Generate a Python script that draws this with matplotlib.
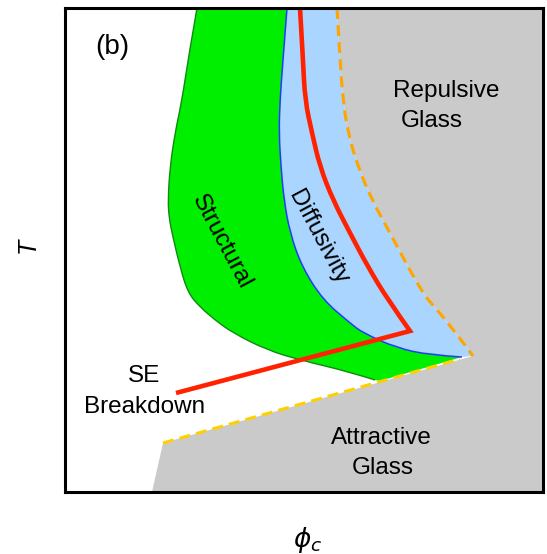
import numpy as np
import matplotlib.pyplot as plt
from matplotlib.path import Path
from matplotlib.patches import PathPatch

plt.rcParams['font.family'] = ['Liberation Sans', 'DejaVu Sans']

# Boundary curves of the schematic state diagram (phi_c across, T up)
structural_phi = [132, 123, 117, 110, 105, 103, 104, 107, 115, 123, 135, 150, 168, 202, 235, 285, 310, 315]
structural_T = [484, 432, 392, 359, 325, 292, 275, 259, 225, 199, 185, 172, 159, 142, 132, 120, 112, 111]
diffusivity_phi = [222, 218, 215, 214, 216, 219, 225, 237, 258, 285, 298, 332, 365, 397]
diffusivity_T = [484, 432, 392, 359, 325, 292, 259, 225, 192, 169, 159, 144, 137, 135]
repulsive_phi = [272, 275, 278, 283, 293, 307, 325, 343, 358, 365, 385, 408]
repulsive_T = [484, 432, 392, 359, 325, 292, 259, 225, 199, 190, 167, 136]
attractive_phi = [98, 395]
attractive_T = [49, 133]
glass_foot_phi = 87
se_phi = [235, 238, 240, 247, 255, 268, 285, 303, 323, 345, 111]
se_T = [484, 432, 392, 359, 325, 292, 259, 225, 192, 161, 99]

phi_max, T_max = 478, 484


def smooth(xs, ys, first=True):
    # quadratic bezier chain through the points (corners rounded at midpoints)
    pts = list(zip(xs, ys))
    verts = [pts[0]]
    codes = [Path.MOVETO if first else Path.LINETO]
    if len(pts) == 2:
        return verts + [pts[1]], codes + [Path.LINETO]
    for i in range(1, len(pts) - 1):
        if i == len(pts) - 2:
            end = pts[-1]
        else:
            end = ((pts[i][0] + pts[i + 1][0]) / 2, (pts[i][1] + pts[i + 1][1]) / 2)
        verts += [pts[i], end]
        codes += [Path.CURVE3, Path.CURVE3]
    return verts, codes


def straight(xs, ys):
    return list(zip(xs, ys)), [Path.LINETO] * len(xs)


def make_path(*pieces, close=False):
    verts, codes = [], []
    for v, c in pieces:
        verts += v
        codes += c
    if close:
        verts.append(verts[0])
        codes.append(Path.CLOSEPOLY)
    return Path(verts, codes)


fig = plt.figure(figsize=(5.47, 5.54), dpi=100)
ax = fig.add_axes([65 / 547, 62 / 554, 478 / 547, 484 / 554])
ax.set_xlim(0, phi_max)
ax.set_ylim(0, T_max)
ax.set_xticks([])
ax.set_yticks([])
for s in ax.spines.values():
    s.set_linewidth(2.2)
    s.set_zorder(10)

# glass region: right of the repulsive line and under the attractive line
glass = make_path(smooth(repulsive_phi, repulsive_T),
                  straight([attractive_phi[0], glass_foot_phi, phi_max, phi_max],
                           [attractive_T[0], 0, 0, T_max]), close=True)
ax.add_patch(PathPatch(glass, facecolor='#cacaca', lw=0))

# structural relaxation region
struct = make_path(smooth(structural_phi[:-1], structural_T[:-1]),
                   straight([structural_phi[-1]], [structural_T[-1]]),
                   smooth(diffusivity_phi[::-1], diffusivity_T[::-1], first=False),
                   close=True)
ax.add_patch(PathPatch(struct, facecolor='#00ee00', lw=0))
ax.add_patch(PathPatch(make_path(smooth(structural_phi[:-1], structural_T[:-1])),
                       fill=False, edgecolor='#118a11', lw=1.0))

# diffusivity region
diff = make_path(smooth(diffusivity_phi, diffusivity_T),
                 smooth(repulsive_phi[::-1], repulsive_T[::-1], first=False),
                 close=True)
ax.add_patch(PathPatch(diff, facecolor='#aad5ff', lw=0))
ax.add_patch(PathPatch(make_path(smooth(diffusivity_phi, diffusivity_T)),
                       fill=False, edgecolor='#1f3cff', lw=1.1))

# glass lines
ax.add_patch(PathPatch(make_path(smooth(repulsive_phi, repulsive_T)), fill=False,
                       edgecolor='#ffa500', lw=2.2, linestyle=(0, (3.6, 2))))
ax.plot(attractive_phi, attractive_T, color='#ffd000', lw=2.2, dashes=(3.6, 2))

# Stokes-Einstein breakdown line
se = make_path(smooth(se_phi[:-1], se_T[:-1]), straight(se_phi[-1:], se_T[-1:]))
ax.add_patch(PathPatch(se, fill=False, edgecolor='#ff2200', lw=3.3, joinstyle='miter'))

fs = 17.5
ax.text(30, 445, '(b)', fontsize=20, ha='left', va='center')
ax.text(328, 395, 'Repulsive', fontsize=fs, ha='left', va='baseline')
ax.text(336, 365, 'Glass', fontsize=fs, ha='left', va='baseline')
ax.text(316, 48, 'Attractive', fontsize=fs, ha='center', va='baseline')
ax.text(318, 18, 'Glass', fontsize=fs, ha='center', va='baseline')
ax.text(79, 110, 'SE', fontsize=fs, ha='center', va='baseline')
ax.text(80, 79, 'Breakdown', fontsize=fs, ha='center', va='baseline')
ax.text(156, 250, 'Structural', fontsize=fs, rotation=-62,
        ha='center', va='center', rotation_mode='anchor')
ax.text(253, 255, 'Diffusivity', fontsize=fs, rotation=-62,
        ha='center', va='center', rotation_mode='anchor')

fig.text(28 / 547, 1 - 245 / 554, 'T', fontsize=18, fontstyle='italic',
         rotation=90, ha='center', va='center')
fig.text(308 / 547, 1 - 540 / 554, r'$\phi_c$', fontsize=19, ha='center', va='center')

fig.savefig('out.png', dpi=100)
